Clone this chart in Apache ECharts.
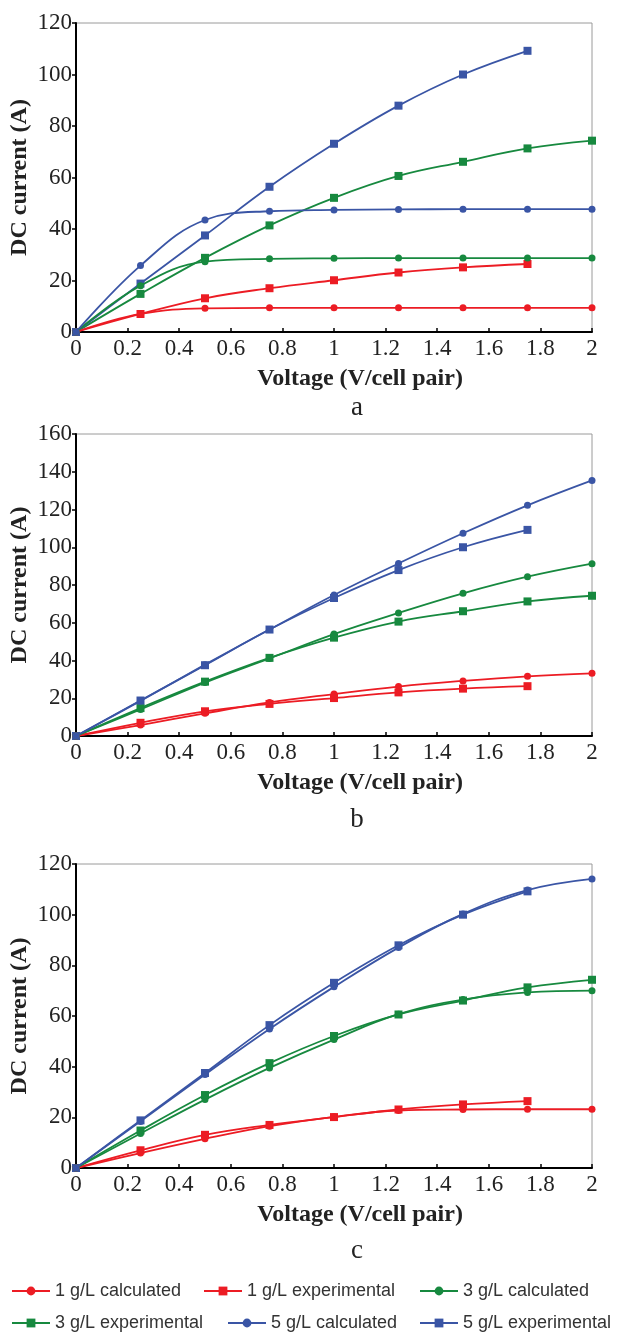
<!DOCTYPE html>
<html>
<head>
<meta charset="utf-8">
<script src="https://cdn.jsdelivr.net/npm/echarts@6/dist/echarts.min.js"></script>
<style>
html,body{margin:0;padding:0;background:#fff;}
#main{width:617px;height:1333px;}
</style>
</head>
<body>
<div id="main"></div>
<script>
// ---- data ----
const volts = [0, 0.25, 0.5, 0.75, 1, 1.25, 1.5, 1.75, 2];
const seriesNames = ['1 g/L calculated', '1 g/L experimental', '3 g/L calculated',
                     '3 g/L experimental', '5 g/L calculated', '5 g/L experimental'];
// experimental (same in every panel)
const exp1 = [0, 7.0, 13.1, 17.0, 20.1, 23.1, 25.1, 26.4];
const exp3 = [0, 14.8, 28.8, 41.4, 52.1, 60.6, 66.1, 71.3, 74.3];
const exp5 = [0, 18.8, 37.5, 56.4, 73.1, 87.9, 100.0, 109.2];
// panel a calculated
const calcA1 = [0, 7.0, 9.2, 9.4, 9.4, 9.4, 9.4, 9.4, 9.4];
const calcA3 = [0, 18.0, 27.3, 28.4, 28.6, 28.7, 28.7, 28.7, 28.7];
const calcA5 = [0, 25.8, 43.5, 46.9, 47.4, 47.6, 47.7, 47.7, 47.7];
// panel b calculated
const calcB1 = [0, 5.8, 12.0, 17.8, 22.2, 26.2, 29.2, 31.6, 33.2];
const calcB3 = [0, 14.1, 28.3, 41.1, 54.0, 65.2, 75.6, 84.4, 91.3];
const calcB5 = [0, 18.6, 37.8, 56.4, 74.7, 91.4, 107.4, 122.2, 135.4];
// panel c calculated
const calcC1 = [0, 5.9, 11.5, 16.5, 20.2, 22.7, 23.1, 23.2, 23.2];
const calcC3 = [0, 13.6, 27.0, 39.5, 50.7, 60.7, 66.5, 69.3, 70.0];
const calcC5 = [0, 18.4, 36.9, 54.9, 71.5, 87.0, 100.3, 109.7, 114.1];
const panelLetters = ['a', 'b', 'c'];
const yMax = [120, 160, 120];
const xAxisTitle = 'Voltage (V/cell pair)';
const yAxisTitle = 'DC current (A)';

// ---- styling / layout ----
const RED = '#ec1c24', GREEN = '#17893f', BLUE = '#3a55a5';
const colors = [RED, RED, GREEN, GREEN, BLUE, BLUE];
const panels = [
  { calc: [calcA1, calcA3, calcA5], top: 23, height: 309, labelY: 405 },
  { calc: [calcB1, calcB3, calcB5], top: 434, height: 302, labelY: 817 },
  { calc: [calcC1, calcC3, calcC5], top: 864, height: 304, labelY: 1248 }
];
const serif = 'Liberation Serif, Times New Roman, serif';
const sans = 'Liberation Sans, Arial, sans-serif';

function pairs(vals) { return vals.map((v, i) => [volts[i], v]); }

const grid = [], xAxis = [], yAxis = [], series = [], title = [];
panels.forEach((p, k) => {
  grid.push({ left: 76, right: 25, top: p.top, height: p.height, show: true,
              containLabel: false, outerBoundsMode: 'none',
              borderColor: '#9a9a9a', borderWidth: 1, backgroundColor: 'transparent' });
  xAxis.push({
    gridIndex: k, type: 'value', min: 0, max: 2, interval: 0.2,
    name: xAxisTitle, nameLocation: 'middle', nameGap: 35, nameMoveOverlap: false,
    nameTextStyle: { fontFamily: serif, fontWeight: 'bold', fontSize: 24, color: '#222', padding: [0, 0, 0, 52] },
    axisLine: { show: true, lineStyle: { color: '#000', width: 2 } },
    axisTick: { show: true, inside: true, length: 4, lineStyle: { color: '#000', width: 1.5 } },
    axisLabel: { fontFamily: serif, fontSize: 23, color: '#222', margin: 5 },
    splitLine: { show: false }
  });
  yAxis.push({
    gridIndex: k, type: 'value', min: 0, max: yMax[k], interval: 20,
    name: yAxisTitle, nameLocation: 'middle', nameGap: 44, nameRotate: 90, nameMoveOverlap: false,
    nameTextStyle: { fontFamily: serif, fontWeight: 'bold', fontSize: 24, color: '#222' },
    axisLine: { show: true, lineStyle: { color: '#000', width: 2 } },
    axisTick: { show: true, inside: false, length: 4, lineStyle: { color: '#000', width: 1.5 } },
    axisLabel: { fontFamily: serif, fontSize: 23, color: '#222', margin: 4 },
    splitLine: { show: false }
  });
  title.push({
    text: panelLetters[k], left: 352, top: p.labelY - 16, textAlign: 'center',
    textStyle: { fontFamily: serif, fontWeight: 'normal', fontSize: 27, color: '#222' }
  });
  const data = [p.calc[0], exp1, p.calc[1], exp3, p.calc[2], exp5];
  data.forEach((vals, i) => {
    const isCalc = i % 2 === 0;
    series.push({
      name: seriesNames[i], type: 'line', xAxisIndex: k, yAxisIndex: k,
      data: pairs(vals), smooth: 0.4,
      symbol: isCalc ? 'circle' : 'rect', symbolSize: isCalc ? 7 : 8,
      lineStyle: { color: colors[i], width: 1.8 },
      itemStyle: { color: colors[i] },
      z: isCalc ? 3 : 2
    });
  });
});

const legendPos = [[6, 1277], [198, 1277], [414, 1277], [6, 1309], [222, 1309], [414, 1309]];
const legend = seriesNames.map((n, i) => ({
  data: [n], left: legendPos[i][0], top: legendPos[i][1], orient: 'horizontal',
  itemWidth: 38, itemHeight: 11, selectedMode: false,
  textStyle: { fontFamily: sans, fontSize: 18, color: '#333' }
}));

const chart = echarts.init(document.getElementById('main'), null, { renderer: 'canvas' });
chart.setOption({
  animation: false, backgroundColor: '#fff',
  title, grid, xAxis, yAxis, legend, series
});
</script>
</body>
</html>
